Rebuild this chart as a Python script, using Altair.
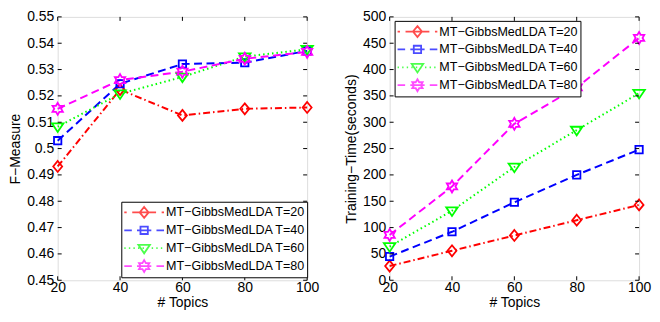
import altair as alt
import pandas as pd

# ---------------- data ----------------
topics = [20, 40, 60, 80, 100]
series_names = [
    "MT\u2212GibbsMedLDA T=20",
    "MT\u2212GibbsMedLDA T=40",
    "MT\u2212GibbsMedLDA T=60",
    "MT\u2212GibbsMedLDA T=80",
]
f_t20 = [0.4932, 0.5224, 0.5126, 0.5151, 0.5156]
f_t40 = [0.5030, 0.5246, 0.5321, 0.5326, 0.5371]
f_t60 = [0.5083, 0.5208, 0.5272, 0.5349, 0.5377]
f_t80 = [0.5151, 0.5260, 0.5292, 0.5341, 0.5367]

time_t20 = [27, 56, 85, 114, 143]
time_t40 = [45, 92, 148, 200, 248]
time_t60 = [64, 132, 215, 285, 355]
time_t80 = [86, 178, 297, 366, 460]

f_ticks = [0.45, 0.46, 0.47, 0.48, 0.49, 0.5, 0.51, 0.52, 0.53, 0.54, 0.55]
time_ticks = [0, 50, 100, 150, 200, 250, 300, 350, 400, 450, 500]
x_ticks = [20, 40, 60, 80, 100]

# ---------------- style ----------------
colors = ["#ff0000", "#0000ff", "#00ff00", "#ff00ff"]
dashes = [[7, 3, 1.5, 3], [8, 4.5], [1.5, 3], [8, 4.5]]

m_diamond = "M0,-0.275L0.225,0L0,0.275L-0.225,0Z"
m_square = "M-0.185,-0.185L0.185,-0.185L0.185,0.185L-0.185,0.185Z"
m_tri = "M-0.29,-0.17L0.29,-0.17L0,0.26Z"
m_hex = ("M0,-0.3L0.0866,-0.15L0.2598,-0.15L0.1732,0L0.2598,0.15L0.0866,0.15"
         "L0,0.3L-0.0866,0.15L-0.2598,0.15L-0.1732,0L-0.2598,-0.15L-0.0866,-0.15Z")
marker_paths = [m_diamond, m_square, m_tri, m_hex]

l_dashdot = "M-1,0L-0.88,0M-0.6,0L0.6,0M0.88,0L1,0"
l_dash = "M-1,0L-0.62,0M-0.36,0L0.36,0M0.62,0L1,0"
l_dot = ("M-1,0L-0.93,0M-0.77,0L-0.7,0M-0.54,0L-0.47,0M-0.31,0L-0.24,0"
         "M-0.08,0L-0.01,0M0.15,0L0.22,0M0.38,0L0.45,0M0.61,0L0.68,0M0.84,0L0.91,0")
legend_paths = [l_dashdot + m_diamond, l_dash + m_square, l_dot + m_tri, l_dash + m_hex]

FONT = "Liberation Sans"
W, H = 251, 265
TL = 4
MSIZE = 1600


def long_df(values):
    rows = []
    for name, vals in zip(series_names, values):
        for t, v in zip(topics, vals):
            rows.append({"topics": t, "value": v, "series": name})
    return pd.DataFrame(rows)


def panel(values, ytitle, ydomain, yticks, yfmt, lx, ly):
    df = long_df(values)
    xscale = alt.Scale(domain=[20, 100], nice=False, zero=False, padding=0)
    yscale = alt.Scale(domain=ydomain, nice=False, zero=False, padding=0)
    xaxis = alt.Axis(values=x_ticks, title="# Topics", grid=False, ticks=False, tickSize=0,
                     domain=False, labelPadding=0, titlePadding=1, format="d", labelFlush=False,
                     labelFont=FONT, labelFontSize=14, labelColor="black",
                     titleFont=FONT, titleFontSize=14, titleFontWeight="normal", titleColor="black")
    yaxis = alt.Axis(values=yticks, title=ytitle, grid=False, ticks=False, tickSize=0,
                     domain=False, labelPadding=4, titlePadding=4, format=yfmt,
                     labelFont=FONT, labelFontSize=14, labelColor="black",
                     titleFont=FONT, titleFontSize=14, titleFontWeight="normal", titleColor="black")
    X = lambda f: alt.X(f, scale=xscale, axis=xaxis, title="# Topics")
    Y = lambda f: alt.Y(f, scale=yscale, axis=yaxis, title=ytitle)
    cscale = alt.Scale(domain=series_names, range=colors)

    lines = alt.Chart(df).mark_line(strokeWidth=2).encode(
        x=X("topics:Q"),
        y=Y("value:Q"),
        color=alt.Color("series:N", scale=cscale, legend=None),
        strokeDash=alt.StrokeDash("series:N", scale=alt.Scale(domain=series_names, range=dashes), legend=None),
    )
    points = alt.Chart(df).mark_point(filled=False, size=MSIZE, strokeWidth=1.8, opacity=1).encode(
        x=X("topics:Q"),
        y=Y("value:Q"),
        color=alt.Color("series:N", scale=cscale, legend=None),
        shape=alt.Shape("series:N", scale=alt.Scale(domain=series_names, range=marker_paths), legend=None),
    )
    ydf = pd.DataFrame({"v": yticks})
    xdf = pd.DataFrame({"v": x_ticks})
    tl = alt.Chart(ydf).mark_rule(color="black", strokeWidth=1).encode(
        y=Y("v:Q"), x=alt.value(0), x2=alt.value(TL))
    tr = alt.Chart(ydf).mark_rule(color="black", strokeWidth=1).encode(
        y=Y("v:Q"), x=alt.value(W - TL), x2=alt.value(W))
    tb = alt.Chart(xdf).mark_rule(color="black", strokeWidth=1).encode(
        x=X("v:Q"), y=alt.value(H - TL), y2=alt.value(H))
    tt = alt.Chart(xdf).mark_rule(color="black", strokeWidth=1).encode(
        x=X("v:Q"), y=alt.value(0), y2=alt.value(TL))

    leg = alt.Legend(title=None, orient="none", legendX=lx, legendY=ly,
                     fillColor="white", strokeColor="black", padding=2,
                     labelFont=FONT, labelFontSize=12.6, labelColor="black", labelOffset=1,
                     labelLimit=400, symbolSize=MSIZE, symbolStrokeWidth=1.8,
                     symbolFillColor="transparent", symbolOffset=0,
                     clipHeight=17.5, rowPadding=0)
    legend_layer = alt.Chart(df).transform_filter("false").mark_point(
        filled=False, size=MSIZE, strokeWidth=1.8).encode(
        x=X("topics:Q"),
        y=Y("value:Q"),
        shape=alt.Shape("series:N", scale=alt.Scale(domain=series_names, range=legend_paths), legend=leg),
        stroke=alt.Stroke("series:N", scale=alt.Scale(domain=series_names, range=colors), legend=leg),
    )
    return alt.layer(lines, points, tl, tr, tb, tt, legend_layer).resolve_scale(
        shape="independent", stroke="independent"
    ).properties(width=W, height=H)


left = panel([f_t20, f_t40, f_t60, f_t80], "F\u2212Measure", [0.45, 0.55], f_ticks, "~r", 64, 186)
right = panel([time_t20, time_t40, time_t60, time_t80], "Training\u2212Time(seconds)", [0, 500], time_ticks, "d", 5, 4)

chart = alt.hconcat(left, right, spacing=24).resolve_scale(
    color="independent", shape="independent", stroke="independent", strokeDash="independent"
).properties(
    padding={"left": 0, "top": 0, "right": 0, "bottom": 1}
).configure_view(stroke="black", strokeWidth=1).configure(background="white")

chart.save("out.html", embed_options={"renderer": "svg", "actions": False})
